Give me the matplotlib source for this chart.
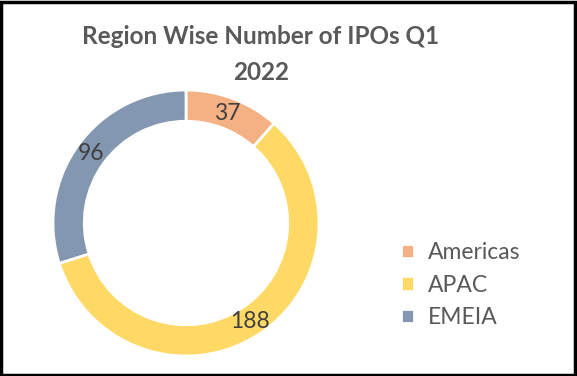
import matplotlib
import matplotlib.pyplot as plt
from matplotlib.patches import Rectangle
import numpy as np

matplotlib.rcParams['font.family'] = ['Lato', 'DejaVu Sans']

regions = ['Americas', 'APAC', 'EMEIA']
ipos = [37, 188, 96]
colors = ['#F4B183', '#FFD966', '#8497B0']

fig = plt.figure(figsize=(5.77, 3.76), dpi=100)

# donut: centre ~ (186, 223) px, outer radius ~133 px
ax = fig.add_axes([(186 - 133) / 577, (376 - 223 - 133) / 376, 266 / 577, 266 / 376])
wedges, _ = ax.pie(ipos, colors=colors, startangle=90, counterclock=False,
                   radius=1.0,
                   wedgeprops=dict(width=0.235, edgecolor='white', linewidth=2))
ax.set_xlim(-1, 1)
ax.set_ylim(-1, 1)
ax.set_aspect('equal')

# data labels on the ring midline
tot = sum(ipos)
start = 90.0
for v in ipos:
    ang = np.deg2rad(start - v / tot * 360 / 2)
    ax.text(0.88 * np.cos(ang), 0.88 * np.sin(ang), str(v), ha='center', va='center',
            fontsize=16.5, color='#404040')
    start -= v / tot * 360

# title is centred a bit left of the figure middle
tx = 261 / 577
fig.text(tx, 1 - 37 / 376, 'Region Wise Number of IPOs Q1', ha='center', va='center',
         fontsize=17.5, fontweight='bold', color='#595959')
fig.text(tx, 1 - 72 / 376, '2022', ha='center', va='center',
         fontsize=17.5, fontweight='bold', color='#595959')

leg = fig.legend(wedges, regions, loc='center left',
                 bbox_to_anchor=(380 / 577, 1 - 285 / 376), frameon=False,
                 fontsize=16.5, labelcolor='#595959', handlelength=0.6, handleheight=0.6,
                 handletextpad=0.6, labelspacing=0.5)

fig.add_artist(Rectangle((0.002, 0.003), 0.995, 0.993, transform=fig.transFigure,
                         fill=False, edgecolor='black', linewidth=2.5))

fig.savefig('out.png', dpi=100)
